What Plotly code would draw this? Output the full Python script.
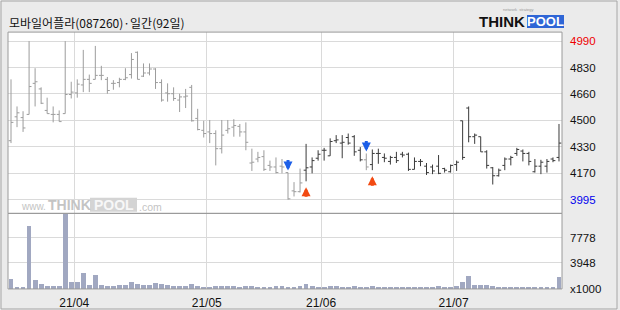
import plotly.graph_objects as go

# ---------------- data ----------------
title = "모바일어플라(087260)·일간(92일)"

opens = [4365, 4515, 4510, 4530, 4725, 4690, 4555, 4530, 4530, 4535,
         4655, 4665, 4715, 4750, 4750, 4775, 4750, 4725, 4730, 4750,
         4780, 4920, 4770, 4790, 4815, 4730, 4665, 4660, 4620, 4640,
         4700, 4505, 4430, 4420, 4410, 4315, 4430, 4450, 4455, 4420,
         4225, 4250, 4265, 4210, 4200, 4205, 4165, 4050, 4045, 4180,
         4200, 4255, 4305, 4270, 4365, 4350, 4385, 4390, 4305, 4245,
         4215, 4285, 4260, 4235, 4260, 4280, 4280, 4185, 4235, 4205,
         4200, 4205, 4190, 4170, 4215, 4490, 4570, 4390, 4390, 4295,
         4195, 4145, 4210, 4250, 4285, 4300, 4285, 4170, 4205, 4205,
         4250, 4260]
highs = [4750, 4580, 4550, 4990, 4820, 4700, 4635, 4580, 4555, 4990,
         4735, 4750, 4935, 4780, 4960, 4835, 4765, 4745, 4760, 4820,
         4915, 4925, 4850, 4850, 4820, 4750, 4725, 4700, 4660, 4690,
         4715, 4565, 4490, 4495, 4430, 4495, 4495, 4500, 4470, 4480,
         4315, 4295, 4305, 4240, 4260, 4250, 4165, 4105, 4190, 4345,
         4260, 4305, 4320, 4380, 4400, 4400, 4410, 4400, 4325, 4285,
         4310, 4315, 4285, 4270, 4295, 4295, 4290, 4260, 4250, 4225,
         4215, 4275, 4195, 4215, 4240, 4490, 4580, 4410, 4390, 4305,
         4200, 4190, 4260, 4270, 4320, 4310, 4295, 4250, 4245, 4250,
         4260, 4470]
lows = [4350, 4450, 4420, 4530, 4580, 4595, 4535, 4480, 4485, 4535,
        4630, 4635, 4670, 4670, 4750, 4745, 4660, 4685, 4700, 4745,
        4755, 4750, 4765, 4775, 4690, 4610, 4610, 4615, 4545, 4570,
        4485, 4430, 4385, 4350, 4210, 4285, 4410, 4390, 4390, 4305,
        4175, 4230, 4175, 4175, 4160, 4160, 3995, 4015, 4040, 4110,
        4160, 4240, 4240, 4270, 4350, 4255, 4340, 4270, 4235, 4180,
        4180, 4220, 4230, 4215, 4225, 4260, 4175, 4185, 4205, 4150,
        4155, 4155, 4165, 4165, 4175, 4245, 4355, 4345, 4295, 4190,
        4090, 4140, 4180, 4210, 4270, 4235, 4210, 4165, 4155, 4165,
        4230, 4235]
closes = [4480, 4540, 4445, 4705, 4735, 4600, 4535, 4530, 4485, 4655,
          4670, 4720, 4750, 4725, 4775, 4775, 4680, 4725, 4750, 4760,
          4875, 4750, 4790, 4815, 4730, 4620, 4660, 4630, 4640, 4645,
          4490, 4435, 4410, 4410, 4315, 4400, 4440, 4460, 4420, 4355,
          4230, 4260, 4185, 4200, 4165, 4200, 4000, 4045, 4100, 4195,
          4240, 4280, 4305, 4360, 4370, 4355, 4350, 4295, 4245, 4200,
          4285, 4285, 4255, 4260, 4240, 4275, 4185, 4235, 4235, 4165,
          4175, 4160, 4180, 4210, 4230, 4260, 4390, 4400, 4295, 4210,
          4145, 4180, 4250, 4260, 4310, 4285, 4235, 4205, 4230, 4235,
          4240, 4350]
volumes = [1440, 310, 310, 9450, 1240, 670, 410, 460, 460, 11300,
           980, 980, 2370, 520, 2060, 520, 460, 410, 520, 520,
           980, 760, 520, 520, 830, 670, 520, 410, 410, 460,
           670, 410, 310, 310, 460, 410, 360, 360, 310, 410,
           360, 310, 310, 310, 360, 360, 310, 310, 360, 620,
           410, 310, 310, 360, 360, 310, 310, 360, 310, 310,
           360, 310, 260, 310, 310, 260, 310, 310, 260, 310,
           260, 360, 260, 310, 410, 980, 1860, 520, 520, 520,
           410, 260, 260, 310, 200, 260, 310, 260, 260, 200,
           200, 1700]  # x1000

buy_signals = [49, 60]
sell_signals = [46, 59]

month_labels = ["21/04", "21/05", "21/06", "21/07"]
month_start = [11, 33, 52, 74]

price_tick_labels = ["3995", "4170", "4330", "4500", "4660", "4830", "4990"]
vol_tick_vals = [0, 3948, 7778]
vol_tick_labels = ["x1000", "3948", "7778"]

# ---------------- layout helpers ----------------
W, H = 620, 310          # target picture size (pixel coordinates below refer to it)
H_LAYOUT = 316.6         # figure height handed to plotly
n = len(opens)
pmin, pmax = min(lows), max(highs)


def fx(px):
    return px / W


def fy(py):
    return 1 - py / H


LEFT, RIGHT = 8, 562
P_TOP, P_BOT = 32, 212.7
V_TOP, V_BOT = 212.7, 288
GRID_TOP, GRID_BOT = 41, 199

step = (pmax - pmin) / 6
price_ticks = [pmin + k * step for k in range(7)]
ppx = (pmax - pmin) / (GRID_BOT - GRID_TOP)
y_hi = pmax + (GRID_TOP - P_TOP) * ppx
y_lo = pmin - (P_BOT - GRID_BOT) * ppx

price_ticktext = []
for k, t in enumerate(price_tick_labels):
    if k == 0:
        price_ticktext.append('<span style="color:#0000ee">%s</span>' % t)
    elif k == len(price_tick_labels) - 1:
        price_ticktext.append('<span style="color:#ee0000">%s</span>' % t)
    else:
        price_ticktext.append(t)

vpp = (vol_tick_vals[2] - vol_tick_vals[1]) / 25.0
vmax = vol_tick_vals[2] + (237 - V_TOP) * vpp

# bar colour state: grey until a buy signal, grey again after a sell signal
state = []
cur = "grey"
for i in range(n):
    if i in buy_signals:
        cur = "dark"
    if i in sell_signals:
        cur = "grey"
    state.append(cur)

fig = go.Figure()
for key, col in [("grey", "#9c9c9c"), ("dark", "#3a3a3a")]:
    idx = [i for i in range(n) if state[i] == key]
    fig.add_trace(go.Ohlc(
        x=idx,
        open=[opens[i] for i in idx], high=[highs[i] for i in idx],
        low=[lows[i] for i in idx], close=[closes[i] for i in idx],
        increasing=dict(line=dict(color=col, width=1)),
        decreasing=dict(line=dict(color=col, width=1)),
        tickwidth=0.4, xaxis="x", yaxis="y", showlegend=False, hoverinfo="skip"))

fig.add_trace(go.Bar(x=list(range(n)), y=volumes, width=0.8,
                     marker=dict(color="#a1a8c1", line=dict(width=0)),
                     xaxis="x", yaxis="y2", showlegend=False, hoverinfo="skip"))

numfont = dict(family="Liberation Sans, Arial, sans-serif", size=11.5, color="#111111")

fig.update_layout(
    width=W, height=H_LAYOUT, margin=dict(l=0, r=0, t=0, b=0),
    paper_bgcolor="#ebebeb", plot_bgcolor="#ffffff",
    bargap=0,
    xaxis=dict(domain=[fx(LEFT), fx(RIGHT)], range=[-0.5, n - 0.5], anchor="y2",
               tickmode="array", tickvals=[m - 0.5 for m in month_start], ticktext=month_labels,
               showgrid=True, gridcolor="#dadada", gridwidth=1, zeroline=False, showline=False,
               ticks="", ticklabelstandoff=5,
               tickfont=dict(family="Liberation Sans, Arial, sans-serif", size=12, color="#111111"),
               rangeslider=dict(visible=False)),
    yaxis=dict(domain=[fy(P_BOT), fy(P_TOP)], range=[y_lo, y_hi], anchor="x", side="right",
               tickmode="array", tickvals=price_ticks, ticktext=price_ticktext,
               showgrid=True, gridcolor="#dadada", gridwidth=1, zeroline=False, showline=False,
               ticks="", ticklabelstandoff=7, tickfont=numfont),
    yaxis2=dict(domain=[fy(V_BOT), fy(V_TOP)], range=[0, vmax], anchor="x", side="right",
                tickmode="array", tickvals=vol_tick_vals, ticktext=vol_tick_labels,
                showgrid=True, gridcolor="#dadada", gridwidth=1, zeroline=False, showline=False,
                ticks="", ticklabelstandoff=7, tickfont=numfont),
)

shapes = [
    # outer frame
    dict(type="rect", xref="paper", yref="paper", x0=fx(1), x1=fx(617), y0=fy(308), y1=fy(1),
         line=dict(color="#a6a6a6", width=1), fillcolor="rgba(0,0,0,0)", layer="below"),
    # price panel border
    dict(type="rect", xref="paper", yref="paper", x0=fx(LEFT), x1=fx(RIGHT), y0=fy(P_BOT), y1=fy(P_TOP),
         line=dict(color="#9a9a9a", width=1), fillcolor="rgba(0,0,0,0)", layer="above"),
    # volume panel border
    dict(type="rect", xref="paper", yref="paper", x0=fx(LEFT), x1=fx(RIGHT), y0=fy(V_BOT), y1=fy(V_TOP),
         line=dict(color="#9a9a9a", width=1), fillcolor="rgba(0,0,0,0)", layer="above"),
    # logo blue box
    dict(type="rect", xref="paper", yref="paper", x0=fx(527), x1=fx(564), y0=fy(28), y1=fy(15),
         line=dict(width=0), fillcolor="#2f66d6", layer="above"),
    # watermark grey block behind "POOL"
    dict(type="rect", xref="paper", yref="paper", x0=fx(90), x1=fx(137), y0=fy(211), y1=fy(197),
         line=dict(width=0), fillcolor="#d4d4d4", layer="above"),
]

wm_col = "#c4c4c4"
annotations = [
    dict(text=title, xref="paper", yref="paper", x=fx(7), y=fy(22), xanchor="left", yanchor="middle",
         showarrow=False, font=dict(family="Noto Sans CJK KR", size=12, color="#111111")),
    dict(text="<b>THINK</b>", xref="paper", yref="paper", x=fx(527), y=fy(21.5), xanchor="right", yanchor="middle",
         showarrow=False, font=dict(family="Liberation Sans, Arial", size=15, color="#111111")),
    dict(text="<b>POOL</b>", xref="paper", yref="paper", x=fx(545.5), y=fy(21.5), xanchor="center", yanchor="middle",
         showarrow=False, font=dict(family="Liberation Sans, Arial", size=13, color="#ffffff")),
    dict(text="network  strategy", xref="paper", yref="paper", x=fx(518), y=fy(9.5), xanchor="center", yanchor="middle",
         showarrow=False, font=dict(family="Liberation Sans, Arial", size=4, color="#9a9a9a")),
    # watermark
    dict(text="www.", xref="paper", yref="paper", x=fx(47), y=fy(206), xanchor="right", yanchor="middle",
         showarrow=False, borderpad=0, font=dict(family="Liberation Sans, Arial", size=10, color=wm_col)),
    dict(text="<b>THINK</b>", xref="paper", yref="paper", x=fx(91.5), y=fy(204), xanchor="right", yanchor="middle",
         showarrow=False, borderpad=0, font=dict(family="Liberation Sans, Arial", size=14, color=wm_col)),
    dict(text="<b>POOL</b>", xref="paper", yref="paper", x=fx(113.5), y=fy(204), xanchor="center", yanchor="middle",
         showarrow=False, borderpad=0, font=dict(family="Liberation Sans, Arial", size=14, color="#f7f7f7")),
    dict(text=".com", xref="paper", yref="paper", x=fx(138), y=fy(206), xanchor="left", yanchor="middle",
         showarrow=False, borderpad=0, font=dict(family="Liberation Sans, Arial", size=10.5, color=wm_col)),
]

for i in sell_signals:
    annotations.append(dict(x=i, y=highs[i], xref="x", yref="y", text="", showarrow=True,
                            ax=0, ay=-14, standoff=2, arrowhead=2, arrowsize=0.6, arrowwidth=3,
                            arrowcolor="#1c5fe8"))
for i in buy_signals:
    annotations.append(dict(x=i, y=lows[i], xref="x", yref="y", text="", showarrow=True,
                            ax=0, ay=17, standoff=6, arrowhead=2, arrowsize=0.6, arrowwidth=3,
                            arrowcolor="#f24a12"))

fig.update_layout(shapes=shapes, annotations=annotations)

fig.write_html("out.html")
